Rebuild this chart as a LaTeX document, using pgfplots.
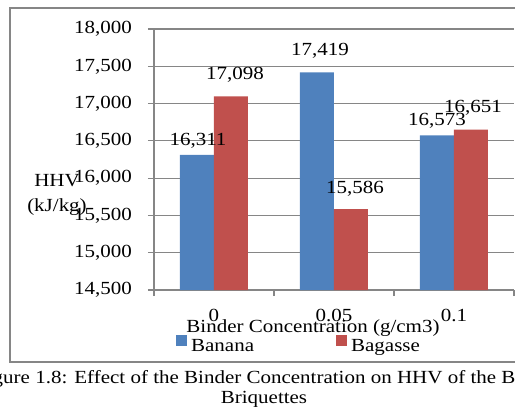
\documentclass[border=0pt]{standalone}
\usepackage{fontspec}
\setmainfont{Liberation Serif}[FakeStretch=1.135]
\usepackage{pgfplots}
\pgfplotsset{compat=1.18}
\definecolor{barblue}{HTML}{4F81BD}
\definecolor{barred}{HTML}{C0504D}
\definecolor{axgray}{HTML}{868686}
\pgfplotstableread{
x y lab dx dy
0 16311 16,311 1 9
1 17419 17,419 3 17
2 16573 16,573 0 10
}\banana
\pgfplotstableread{
x y lab dx dy
0 17098 17,098 4 17
1 15586 15,586 4 16
2 16651 16,651 2 17
}\bagasse
\begin{document}
\begin{tikzpicture}[font=\fontsize{18.5pt}{20pt}\selectfont]
\useasboundingbox (-154pt,-120pt) rectangle (361pt,290pt);
\clip (-154pt,-120pt) rectangle (361pt,290pt);
\draw[axgray, line width=1.4pt] (-144pt,-72pt) rectangle (380pt,282pt);
\begin{axis}[
  at={(0pt,0pt)}, anchor=south west,
  scale only axis, width=360pt, height=261pt,
  ybar=0pt, bar width=34pt,
  xmin=-0.5, xmax=2.5,
  ymin=14500, ymax=18000,
  ytick={14500,15000,...,18000},
  scaled y ticks=false,
  /pgf/number format/assume math mode=true,
  yticklabel style={/pgf/number format/fixed, /pgf/number format/1000 sep={,}, anchor=east, inner sep=0pt, xshift=-16pt},
  xtick={0,1,2}, xticklabels={0,0.05,0.1},
  minor xtick={-0.5,0.5,1.5,2.5},
  xticklabel style={anchor=base, inner sep=0pt, yshift=-25pt},
  major x tick style={draw=none},
  tick align=outside, major tick length=6pt, minor tick length=6pt,
  axis x line*=bottom, axis y line*=left,
  axis line style={axgray, line width=1.2pt},
  tick style={axgray, line width=1.2pt},
  ymajorgrids, grid style={axgray, line width=1.2pt},
  xlabel={Binder Concentration (g/cm3)},
  xlabel style={at={(axis description cs:0.4417,0)}, anchor=base, inner sep=0pt, yshift=-42pt},
  legend columns=2,
  legend style={draw=none, fill=none, inner sep=0pt, at={(axis description cs:0.061,-0.207)}, anchor=west,
    nodes={inner sep=0pt}, column sep=4pt,
    /tikz/every even column/.append style={column sep=82pt}},
  legend image code/.code={\fill[#1] (0pt,1pt) rectangle (11pt,12pt);},
  nodes near coords,
  point meta=explicit symbolic,
  visualization depends on={\thisrow{dx} \as \dx},
  visualization depends on={\thisrow{dy} \as \dy},
  nodes near coords style={anchor=base, inner sep=0pt, xshift=\dx pt, yshift=\dy pt, text=black},
]
\addplot[fill=barblue, draw=none] table[x=x, y=y, meta=lab] {\banana};
\addplot[fill=barred, draw=none] table[x=x, y=y, meta=lab] {\bagasse};
\legend{Banana, Bagasse}
\end{axis}
\node[anchor=base, align=center] at (-97pt,103pt) {HHV};
\node[anchor=base, align=center] at (-97pt,78pt) {(kJ/kg)};
\node[anchor=base west, inner sep=0pt] at (-179pt,-93pt) {Figure 1.8: Effect of the Binder Concentration on HHV of the Banana};
\node[anchor=base, inner sep=0pt] at (110pt,-113pt) {Briquettes};
\end{tikzpicture}
\end{document}
